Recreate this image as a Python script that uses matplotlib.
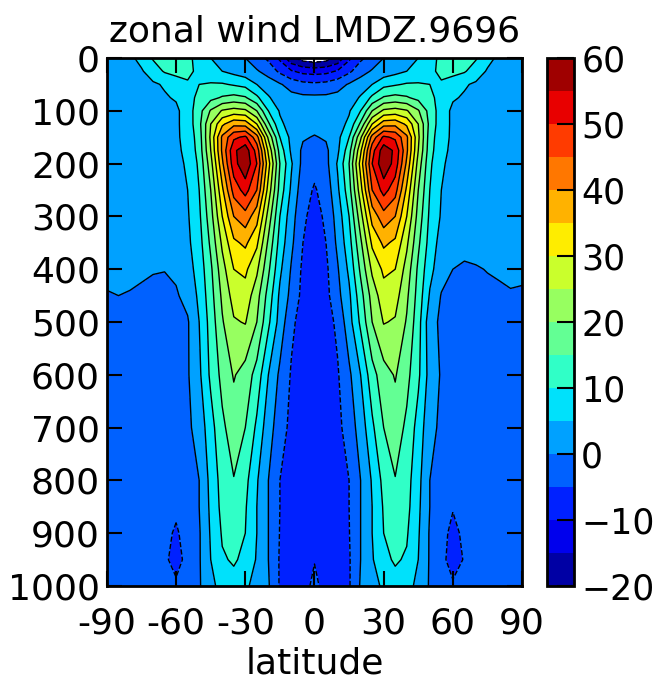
import numpy as np
import matplotlib
matplotlib.use("Agg")
import matplotlib.pyplot as plt

# ---------------- data ----------------
lat_sh = [-90, -85, -80, -75, -70, -65, -60, -55, -50, -45, -40, -35, -30, -25, -20, -15, -10, -5, 0]
lat_nh = [5, 10, 15, 20, 25, 30, 35, 40, 45, 50, 55, 60, 65, 70, 75, 80, 85, 90]
pressure = [0, 25, 50, 75, 100, 125, 150, 175, 200, 250, 300, 350, 400, 450, 500,
            600, 700, 800, 850, 900, 950, 1000]

# zonal wind, southern hemisphere incl. equator (rows = pressure, cols = lat_sh)
u_sh = [
    [2, 3, 4, 6.5, 10.5, 12, 12, 11, 8.5, 5, 3.5, 2, 0, -3, -6, -11, -19, -22.5, -24],
    [2, 3, 3.5, 4.5, 7.5, 10.5, 11.5, 11, 9, 6.5, 5, 3.5, 2, 0.5, -2, -6, -9.5, -11.5, -12],
    [2, 2.5, 3, 3.5, 4.3, 5.5, 7.5, 9.5, 10, 10.5, 10.5, 9.5, 8.5, 5, 2.5, 0.5, -2, -3.5, -4],
    [2, 2.5, 3, 3, 3.5, 4.5, 5.5, 8.5, 11, 13.5, 15.5, 16.5, 15.5, 11, 5.5, 2.5, 1.5, 1, 1],
    [2, 2.5, 3, 3, 3.5, 3.8, 4, 7.5, 13, 20.5, 25.5, 27, 26, 20, 10, 4.5, 3.5, 3, 3],
    [2.5, 2.5, 3, 3, 3.5, 3.8, 4.2, 7, 13.5, 25, 34, 38.5, 38, 30, 16, 6, 3, 2, 1.5],
    [2.5, 2.5, 3, 3, 3.5, 3.8, 4.3, 6.5, 12.5, 26, 41, 49, 51, 42, 24, 10, 3.5, 0.5, -0.3],
    [2.5, 2.5, 3, 3, 3.5, 3.8, 4.2, 6, 12, 25, 41, 54, 58, 48, 29, 13, 4, -1, -2],
    [2.5, 2.5, 3, 3, 3.5, 3.8, 4, 5.5, 11, 23, 39, 53, 59, 50, 32, 15, 5.5, -1.5, -3.5],
    [2.5, 2.5, 3, 3, 3.2, 3.5, 3.5, 5, 10, 20, 34, 47, 52, 45, 28, 13, 4, -3, -5.5],
    [2.2, 2.2, 2.5, 2.5, 2.8, 3, 3, 4.5, 9, 18, 30, 40, 43, 37, 23, 10, 2, -4, -7],
    [1.8, 1.8, 2, 2, 2.2, 2.5, 2.5, 4, 8, 16, 26, 34, 36, 31, 19, 8, 1, -5, -7.5],
    [1.2, 1.5, 1.2, 0.6, 0.3, 0.2, 0.8, 3, 7, 14, 23, 30, 31, 26, 16, 6, -0.5, -6, -8],
    [-0.3, 0, -0.3, -0.6, -1.2, -1.8, -0.5, 1.5, 6, 13, 21, 27, 28, 22, 13, 4, -1.5, -6.5, -8],
    [-1.5, -1.5, -1.5, -1.5, -1.8, -2, -1.5, -0.5, 5, 12, 19.5, 24.5, 25.3, 20, 11, 3, -4, -7, -8],
    [-2, -2, -2, -2, -2, -2, -1.8, -0.5, 4, 11, 16.5, 20.4, 18, 13, 5, -1, -5.5, -8, -8.5],
    [-2, -2, -2, -2, -2, -2, -2, -1, 2, 8, 14, 17.5, 15, 9, 2, -2.5, -6.5, -8.5, -9],
    [-2, -2, -2, -2, -2, -2.5, -2.5, -1.5, 0, 6.5, 12, 14.8, 11.5, 5.5, 0, -5, -7.5, -8.5, -8.5],
    [-2, -2, -2, -2, -2, -2.8, -3.5, -1.5, 0, 6, 11.5, 13.5, 10.5, 5, 0, -5, -7.5, -8, -8],
    [-2, -2, -2, -2, -2, -3, -6, -2, -0.5, 5.5, 10.5, 12, 10, 5, 0, -5.2, -7, -7.5, -7],
    [-2, -2, -2, -2, -2, -3.5, -8, -2.5, -0.5, 5, 9.5, 10.5, 9, 4.5, 0, -5.5, -7, -7, -5.2],
    [-2, -2, -2, -2, -2, -2.5, -3.5, -2, -0.5, 3.5, 7, 8.5, 6, 3, 0.5, -5.5, -7, -6.5, -4],
]

# zonal wind, northern hemisphere (rows = pressure, cols = lat_nh)
u_nh = [
    [-22.5, -19, -11, -6, -3, 0, 2, 3.5, 5, 8.5, 11, 12, 12, 10.5, 6.5, 4, 3, 2],
    [-11.5, -9.5, -6, -2, 0.5, 2, 3.5, 5, 6.5, 9, 11, 11.5, 10.5, 7.5, 4.5, 3.5, 3, 2],
    [-3.5, -2, 0.5, 2.5, 5, 8.5, 9.5, 10.5, 10.5, 10, 9.5, 7.5, 5.5, 4.3, 3.5, 3, 2.5, 2],
    [1, 1.5, 2.5, 5.5, 11, 15.5, 16.5, 15.5, 13.5, 11, 8.5, 5.5, 4.5, 3.5, 3, 3, 2.5, 2],
    [3, 3.5, 4.5, 10, 20, 26, 27, 25.5, 20.5, 13, 7.5, 4, 3.8, 3.5, 3, 3, 2.5, 2],
    [2, 3, 6, 16, 30, 38, 38.5, 34, 25, 13.5, 7, 4.2, 3.8, 3.5, 3, 3, 2.5, 2.5],
    [0.5, 3.5, 10, 24, 42, 51, 49, 41, 26, 12.5, 6.5, 4.3, 3.8, 3.5, 3, 3, 2.5, 2.5],
    [-1, 4, 13, 29, 48, 58, 54, 41, 25, 12, 6, 4.2, 3.8, 3.5, 3, 3, 2.5, 2.5],
    [-1.5, 5.5, 15, 32, 50, 59, 53, 39, 23, 11, 5.5, 4, 3.8, 3.5, 3, 3, 2.5, 2.5],
    [-3, 4, 13, 28, 45, 52, 47, 34, 20, 10, 5, 3.5, 3.5, 3.2, 3, 3, 2.5, 2.5],
    [-4, 2, 10, 23, 37, 43, 40, 30, 18, 9, 4.5, 3, 3, 2.8, 2.5, 2.5, 2.2, 2.2],
    [-5, 1, 8, 19, 31, 36, 34, 26, 16, 8, 3, 2, 1.8, 2, 2, 2, 2, 2],
    [-6, -0.5, 6, 16, 26, 31, 30, 23, 14, 6.5, 2, 0, -0.8, -0.4, 0.2, 0.6, 0.8, 0.8],
    [-6.5, -1.5, 4, 13, 22, 28, 27, 21, 13, 4.5, -0.3, -1, -1.5, -1.3, -1.2, -0.8, -0.3, -0.5],
    [-7, -4, 3, 11, 20, 25.3, 24.5, 19.5, 12, 2, -1, -1.5, -2, -1.8, -1.5, -1.5, -0.8, -1],
    [-8, -5.5, -1, 5, 13, 18, 20.4, 16.5, 11, 3, -0.5, -1.8, -2, -2, -2, -2, -2, -2],
    [-8.5, -6.5, -2.5, 2, 9, 15, 17.5, 14, 8, 1.5, -1, -2, -2, -2, -2, -2, -2, -2],
    [-8.5, -7.5, -5, 0, 5.5, 11.5, 14.8, 12, 6.5, 0, -1.5, -2.5, -2.5, -2, -2, -2, -2, -2],
    [-8, -7.5, -5, 0, 5, 10.5, 13.5, 11.5, 6, 0, -2, -4.5, -2.8, -2, -2, -2, -2, -2],
    [-7.5, -7, -5.2, 0, 5, 10, 12, 10.5, 5.5, -0.5, -2.5, -7, -3.5, -2, -2, -2, -2, -2],
    [-7, -7, -5.5, 0, 4.5, 9, 10.5, 9.5, 5, -0.5, -3, -8, -4.5, -2, -2, -2, -2, -2],
    [-6.5, -7, -5.5, 0.5, 3, 6, 8.5, 7, 3.5, -0.5, -2, -4, -2.5, -2, -2, -2, -2, -2],
]

levels = list(range(-20, 61, 5))
cbar_ticks = [-20, -10, 0, 10, 20, 30, 40, 50, 60]
xticks = [-90, -60, -30, 0, 30, 60, 90]
xtick_labels = ["-90", "-60", "-30", "0", "30", "60", "90"]
yticks = [0, 100, 200, 300, 400, 500, 600, 700, 800, 900, 1000]

# ---------------- figure ----------------
lat = np.array(lat_sh + lat_nh, dtype=float)
p = np.array(pressure, dtype=float)
u = np.hstack([np.array(u_sh, dtype=float), np.array(u_nh, dtype=float)])

FS = 26
fig = plt.figure(figsize=(6.6, 6.85), dpi=100)
ax = fig.add_axes([0.162, 0.1445, 0.629, 0.7708])
cf = ax.contourf(lat, p, u, levels=levels, cmap="jet")
ax.contour(lat, p, u, levels=levels, colors="k", linewidths=1.0)
ax.set_xlim(-90, 90)
ax.set_ylim(1000, 0)
ax.set_xticks(xticks)
ax.set_xticklabels(xtick_labels)
ax.set_yticks(yticks)
ax.tick_params(direction="in", length=11, width=1.5, labelsize=FS,
               top=True, right=True)
ax.tick_params(axis="x", pad=15)
ax.tick_params(axis="y", pad=5)
for s in ax.spines.values():
    s.set_linewidth(2)
ax.set_xlabel("latitude", fontsize=FS, labelpad=4)
ax.set_title("zonal wind LMDZ.9696", fontsize=FS, pad=12)

cax = fig.add_axes([0.829, 0.1445, 0.041, 0.7708])
cb = fig.colorbar(cf, cax=cax, ticks=cbar_ticks)
cax.tick_params(direction="in", length=12, width=1.5, labelsize=25, pad=5)
cb.outline.set_linewidth(2)

fig.savefig("out.png", dpi=100)
